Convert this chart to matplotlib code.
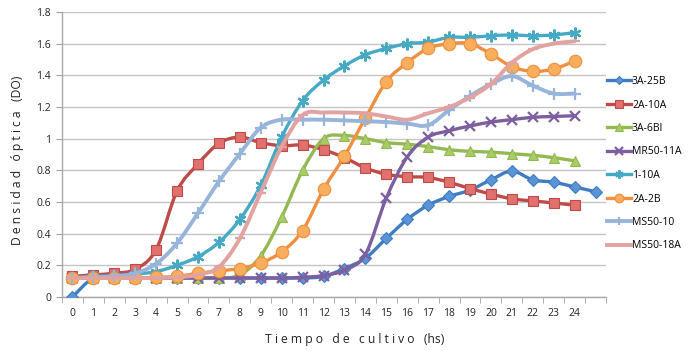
import numpy as np
import matplotlib
matplotlib.use("Agg")
from matplotlib import pyplot as plt
from matplotlib.path import Path
from matplotlib.patches import PathPatch
from matplotlib.lines import Line2D

plt.rcParams["font.family"] = ["Open Sans", "DejaVu Sans"]

hours = [str(h) for h in range(25)] + [""]

s_3a25b = [0.0, 0.12, 0.12, 0.12, 0.12, 0.12, 0.12, 0.12, 0.12, 0.12, 0.12, 0.12, 0.13,
           0.18, 0.245, 0.37, 0.49, 0.58, 0.635, 0.675, 0.74, 0.795, 0.74, 0.725, 0.695, 0.665]
s_2a10a = [0.13, 0.14, 0.15, 0.175, 0.30, 0.67, 0.84, 0.97, 1.01, 0.975, 0.955, 0.96, 0.93,
           0.88, 0.815, 0.775, 0.76, 0.755, 0.725, 0.685, 0.65, 0.62, 0.607, 0.594, 0.58]
s_3a6bi = [0.12, 0.12, 0.12, 0.12, 0.12, 0.12, 0.12, 0.12, 0.14, 0.26, 0.505, 0.80, 1.0,
           1.02, 1.0, 0.975, 0.965, 0.95, 0.93, 0.92, 0.915, 0.905, 0.895, 0.88, 0.86]
s_mr5011a = [0.12, 0.12, 0.12, 0.12, 0.12, 0.12, 0.12, 0.12, 0.12, 0.12, 0.12, 0.125, 0.135,
             0.17, 0.27, 0.625, 0.885, 1.01, 1.05, 1.08, 1.105, 1.12, 1.135, 1.14, 1.145]
s_110a = [0.12, 0.13, 0.135, 0.145, 0.16, 0.20, 0.255, 0.345, 0.49, 0.705, 1.01, 1.24, 1.37,
          1.46, 1.53, 1.57, 1.6, 1.61, 1.64, 1.64, 1.65, 1.655, 1.65, 1.655, 1.67]
s_2a2b = [0.12, 0.12, 0.12, 0.12, 0.125, 0.13, 0.15, 0.165, 0.18, 0.215, 0.285, 0.42, 0.68,
          0.89, 1.13, 1.36, 1.48, 1.57, 1.6, 1.6, 1.535, 1.455, 1.425, 1.44, 1.49]
s_ms5010 = [0.12, 0.125, 0.13, 0.15, 0.21, 0.34, 0.53, 0.73, 0.905, 1.07, 1.12, 1.12, 1.12,
            1.115, 1.11, 1.105, 1.095, 1.085, 1.18, 1.27, 1.345, 1.395, 1.335, 1.285, 1.285]
s_ms5018a = [0.12, 0.12, 0.12, 0.12, 0.12, 0.125, 0.14, 0.19, 0.37, 0.66, 0.95, 1.15, 1.165,
             1.165, 1.16, 1.14, 1.12, 1.16, 1.2, 1.26, 1.345, 1.48, 1.565, 1.6, 1.615]

series = [
    ("3A-25B", s_3a25b, "#3F7CC2", "#5B94D6", "D", 6.5),
    ("2A-10A", s_2a10a, "#BE4B48", "#E0716E", "s", 7.8),
    ("3A-6BI", s_3a6bi, "#94B952", "#A8CC66", "^", 7.8),
    ("MR50-11A", s_mr5011a, "#7D5FA0", "#7D5FA0", "x", 7.5),
    ("1-10A", s_110a, "#46AAC5", "#46AAC5", (6, 2, 0), 8.5),
    ("2A-2B", s_2a2b, "#F0903F", "#F9AE5E", "o", 9.0),
    ("MS50-10", s_ms5010, "#97B4DA", "#97B4DA", "+", 8.5),
    ("MS50-18A", s_ms5018a, "#E2A2A0", "#E2A2A0", "_", 7.0),
]


def smooth_path(x, y):
    # bezier curve through the points, like the spreadsheet "smoothed line"
    pts = np.column_stack([x, y]).astype(float)
    n = len(pts)
    verts = [pts[0]]
    codes = [Path.MOVETO]
    for i in range(n - 1):
        p0 = pts[i - 1] if i > 0 else pts[i]
        p1 = pts[i]
        p2 = pts[i + 1]
        p3 = pts[i + 2] if i + 2 < n else pts[i + 1]
        c1 = p1 + (p2 - p0) / 6.0
        c2 = p2 - (p3 - p1) / 6.0
        verts += [c1, c2, p2]
        codes += [Path.CURVE4] * 3
    return Path(verts, codes)


fig = plt.figure(figsize=(6.96, 3.51), dpi=100)
ax = fig.add_axes([62 / 696, 1 - 297 / 351, 544 / 696, 285 / 351])

handles = []
for k, (name, vals, col, fill, mk, ms) in enumerate(series):
    x = np.arange(len(vals))
    lw = 2.8 if name.startswith("MS50") else 2.4
    ax.add_patch(PathPatch(smooth_path(x, vals), facecolor="none", edgecolor=col,
                           lw=lw, zorder=3 + 2 * k, capstyle="round", joinstyle="round"))
    mew = 1.6 if mk in ("x", "+", "_") or isinstance(mk, tuple) else 0.8
    ax.plot(x, vals, linestyle="none", marker=mk, markersize=ms, markerfacecolor=fill,
            markeredgecolor=col, markeredgewidth=mew, zorder=4 + 2 * k)
    handles.append(Line2D([], [], color=col, lw=lw, marker=mk, markersize=ms * 0.7,
                          markerfacecolor=fill, markeredgecolor=col, markeredgewidth=mew))

ax.set_xlim(-0.5, 25.5)
ax.set_ylim(0, 1.8)
ax.set_yticks(np.arange(0, 1.81, 0.2))
ax.set_yticklabels(["0", "0.2", "0.4", "0.6", "0.8", "1", "1.2", "1.4", "1.6", "1.8"])
ax.set_xticks(range(len(hours)))
ax.set_xticklabels(hours)
ax.set_xticks(np.arange(-0.5, 25.6, 1), minor=True)
ax.tick_params(axis="x", which="major", length=0, pad=8, labelsize=7.5, colors="#222222")
ax.tick_params(axis="x", which="minor", length=4, color="#A0A0A0", direction="out")
ax.tick_params(axis="y", length=4, color="#A0A0A0", labelsize=7.5, labelcolor="#222222", pad=4)

ax.grid(axis="y", color="#C4C4C4", lw=1.0)
ax.set_axisbelow(True)
for side in ("top", "right"):
    ax.spines[side].set_visible(False)
for side in ("left", "bottom"):
    ax.spines[side].set_color("#A8A8A8")
    ax.spines[side].set_linewidth(1.0)

fig.text(355 / 696, 1 - 340 / 351, "T i e m p o   d e   c u l t i v o   (hs)",
         ha="center", va="center", fontsize=8.7, color="#222222")
fig.text(18 / 696, 1 - 160 / 351, "D e n s i d a d   ó p t i c a   (DO)",
         ha="center", va="center", rotation=90, fontsize=8.7, color="#222222")

ax.legend(handles, [s[0] for s in series], loc="upper left",
          bbox_to_anchor=(607 / 696, 1 - 76 / 351), bbox_transform=fig.transFigure,
          frameon=False, fontsize=7.5, handlelength=2.3, handletextpad=0.1,
          labelspacing=1.2, borderaxespad=0, borderpad=0)

fig.savefig("out.png", dpi=100)
